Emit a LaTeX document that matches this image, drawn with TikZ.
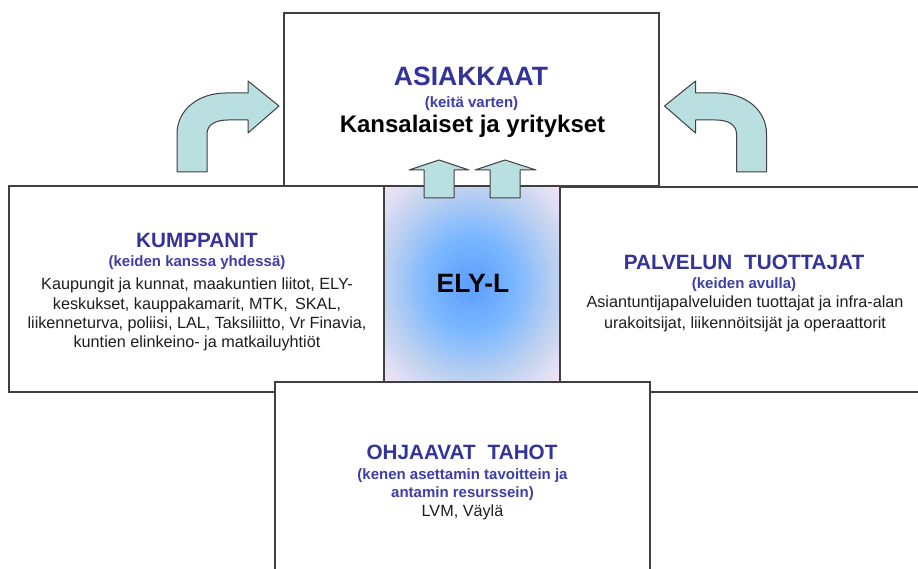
\documentclass[tikz,border=0pt]{standalone}
\usepackage{fontspec}
\setmainfont{Liberation Sans}
\definecolor{titleblue}{RGB}{51,51,153}
\definecolor{subblue}{RGB}{62,62,168}
\definecolor{bodygray}{RGB}{30,30,30}
\definecolor{linegray}{RGB}{64,64,64}
\definecolor{arrowfill}{RGB}{185,223,224}
\definecolor{elyA}{RGB}{92,156,255}
\definecolor{elyB}{RGB}{122,183,255}
\definecolor{elyC}{RGB}{192,210,240}
\definecolor{elyD}{RGB}{244,229,246}
\tikzset{
  boxnode/.style={draw=linegray, line width=1.3pt, fill=white, anchor=north west, inner sep=0pt, outer sep=0pt},
  carrow/.style={draw=linegray, line width=1pt, fill=arrowfill, line join=round},
  titletext/.style={anchor=base, inner sep=0pt, text=titleblue, font=\bfseries\fontsize{20.7}{24}\selectfont},
  subtext/.style={anchor=base, inner sep=0pt, text=subblue, font=\bfseries\fontsize{15}{18}\selectfont},
  bodytext/.style={anchor=base, inner sep=0pt, text=bodygray, font=\fontsize{16.2}{19}\selectfont},
}
\begin{document}
\begin{tikzpicture}[x=1pt,y=-1pt]
\clip (0,0) rectangle (918,569);
\fill[white] (0,0) rectangle (918,569);
% boxes
\node[boxnode, minimum width=375pt, minimum height=173pt] (top) at (284,13) {};
\node[boxnode, minimum width=375pt, minimum height=206pt] (left) at (9,186) {};
\node[boxnode, minimum width=372pt, minimum height=205pt] (right) at (559,187) {};
% ELY-L gradient
\coordinate (elyc) at (472,284);
\begin{scope}
\clip (384,186) rectangle (560,382);
\foreach \k in {0,...,57}{
  \pgfmathsetmacro{\r}{1.46-\k*0.025}
  \ifdim\r pt<0.5pt
    \pgfmathsetmacro{\t}{\r*200}
    \colorlet{elycur}{elyB!\t!elyA}
  \else\ifdim\r pt<1pt
    \pgfmathsetmacro{\t}{(\r-0.5)*200}
    \colorlet{elycur}{elyC!\t!elyB}
  \else
    \pgfmathsetmacro{\t}{min((\r-1)/0.42*100,100)}
    \colorlet{elycur}{elyD!\t!elyC}
  \fi\fi
  \pgfmathsetmacro{\rx}{88*\r}
  \pgfmathsetmacro{\ry}{98*\r}
  \fill[elycur] (elyc) ellipse [x radius=\rx pt, y radius=\ry pt];
}
\end{scope}
\node[boxnode, fill=none, minimum width=176pt, minimum height=196pt] (ely) at (384,186) {};
\node[boxnode, minimum width=375pt, minimum height=210pt] (bottom) at (275,382) {};
% up arrows
\draw[carrow] (424,198) -- (424,170) -- (409,170) -- (439,160) -- (469,170) -- (454,170) -- (454,198) -- cycle;
\draw[carrow] (490,198) -- (490,170) -- (475,170) -- (505,160) -- (536,170) -- (520,170) -- (520,198) -- cycle;
% curved arrows
\draw[carrow] (177,172) -- (177,134) .. controls (177,110) and (198,93) .. (226,93) -- (248,93) -- (248,81) -- (279,106) -- (248,133) -- (248,120) -- (228,120) .. controls (215,120) and (207,125) .. (207,134) -- (207,172) -- cycle;
\begin{scope}[shift={(943.5,0)}, xscale=-1]
\draw[carrow] (177,172) -- (177,134) .. controls (177,110) and (198,93) .. (226,93) -- (248,93) -- (248,81) -- (279,106) -- (248,133) -- (248,120) -- (228,120) .. controls (215,120) and (207,125) .. (207,134) -- (207,172) -- cycle;
\end{scope}
% top texts
\node[titletext, font=\bfseries\fontsize{26.5}{30}\selectfont] (asi) at (471,86) {ASIAKKAAT};
\node[subtext] (asisub) at (471.5,108) {(keitä varten)};
\node[anchor=base, inner sep=0pt, text=black, font=\bfseries\fontsize{24}{28}\selectfont] (asibody) at (472.5,133) {Kansalaiset ja yritykset};
% ELY-L
\node[anchor=base, inner sep=0pt, text=black, font=\bfseries\fontsize{26.5}{30}\selectfont] (elytxt) at (473,293) {ELY-L};
% left texts
\node[titletext] (kum) at (197,248) {KUMPPANIT};
\node[subtext] (kumsub) at (197,267) {(keiden kanssa yhdessä)};
\node[bodytext] (kum1) at (197,290) {Kaupungit ja kunnat, maakuntien liitot, ELY-};
\node[bodytext] (kum2) at (197,309) {keskukset, kauppakamarit, MTK, \,SKAL,};
\node[bodytext] (kum3) at (197,328) {liikenneturva, poliisi, LAL, Taksiliitto, Vr Finavia,};
\node[bodytext] (kum4) at (197,347) {kuntien elinkeino- ja matkailuyhtiöt};
% right texts
\node[titletext] (pal) at (744,270) {PALVELUN\hspace{0.3em} TUOTTAJAT};
\node[subtext] (palsub) at (744,288) {(keiden avulla)};
\node[bodytext] (pal1) at (745,308) {Asiantuntijapalveluiden tuottajat ja infra-alan};
\node[bodytext] (pal2) at (745,328) {urakoitsijat, liikennöitsijät ja operaattorit};
% bottom texts
\node[titletext] (ohj) at (462,459) {OHJAAVAT\hspace{0.3em} TAHOT};
\node[subtext] (ohjsub1) at (462.5,479) {(kenen asettamin tavoittein ja};
\node[subtext] (ohjsub2) at (462.5,497) {antamin resurssein)};
\node[bodytext] (ohjbody) at (462.5,516) {LVM, Väylä};
\end{tikzpicture}
\end{document}
